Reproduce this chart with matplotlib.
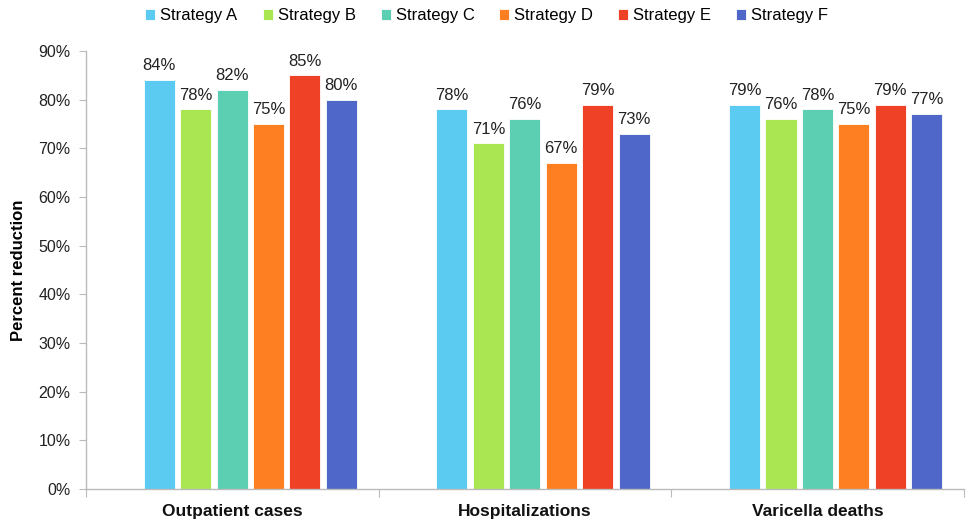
import matplotlib
matplotlib.use("Agg")
import matplotlib.pyplot as plt
import numpy as np
from matplotlib.ticker import PercentFormatter

plt.rcParams['font.family'] = ['Liberation Sans', 'DejaVu Sans']

categories = ["Outpatient cases", "Hospitalizations", "Varicella deaths"]
strategies = ["Strategy A", "Strategy B", "Strategy C", "Strategy D", "Strategy E", "Strategy F"]
values = {
    "Strategy A": [84, 78, 79],
    "Strategy B": [78, 71, 76],
    "Strategy C": [82, 76, 78],
    "Strategy D": [75, 67, 75],
    "Strategy E": [85, 79, 79],
    "Strategy F": [80, 73, 77],
}
colors = ["#5BCBF2", "#A9E651", "#5CCFB2", "#FE7F22", "#EE4126", "#4F67C8"]

W, H = 968, 521
fig = plt.figure(figsize=(W / 100, H / 100), dpi=100)
# plot area: 0% at y=489 px, 90% at y=51 px; x from 86 to 964 px
ax = fig.add_axes([86 / W, (H - 489) / H, (964 - 86) / W, (489 - 51) / H])

x = np.arange(len(categories))
slot = 0.1245
bw = 0.106
shift = 0.0615
for i, (s, c) in enumerate(zip(strategies, colors)):
    offs = (i - 2.5) * slot + shift
    ax.bar(x + offs, values[s], width=bw, color=c, label=s,
           edgecolor="white", linewidth=0.6, zorder=2)
    for xi, v in zip(x + offs, values[s]):
        ax.text(xi, v + 1.4, f"{v}%", ha="center", va="bottom", fontsize=12, color="#222222")

ax.set_xlim(-0.5, 2.5)
ax.set_ylim(0, 90)
ax.set_yticks(np.arange(0, 91, 10))
ax.yaxis.set_major_formatter(PercentFormatter(decimals=0))
ax.tick_params(axis="y", labelsize=11.5, length=5, color="#BBBBBB", labelcolor="#222222", pad=6)

ax.set_xticks([-0.5, 0.5, 1.5, 2.5])
ax.set_xticklabels([])
ax.tick_params(axis="x", length=6, color="#BBBBBB", direction="out")
ax.set_xticks(x, minor=True)
ax.set_xticklabels(categories, minor=True, fontweight="bold", fontsize=12.5)
ax.tick_params(axis="x", which="minor", length=0, pad=11, labelcolor="#111111")

for sp in ["top", "right"]:
    ax.spines[sp].set_visible(False)
for sp in ["left", "bottom"]:
    ax.spines[sp].set_color("#BBBBBB")
    ax.spines[sp].set_linewidth(1.0)

ax.set_ylabel("Percent reduction", fontweight="bold", fontsize=12, labelpad=9)

fig.legend(loc="upper center", bbox_to_anchor=(0.503, 1.013), ncol=6, frameon=False,
           fontsize=12, handlelength=0.6, handleheight=0.6, handletextpad=0.3,
           columnspacing=1.5)

fig.savefig("out.png", dpi=100)
